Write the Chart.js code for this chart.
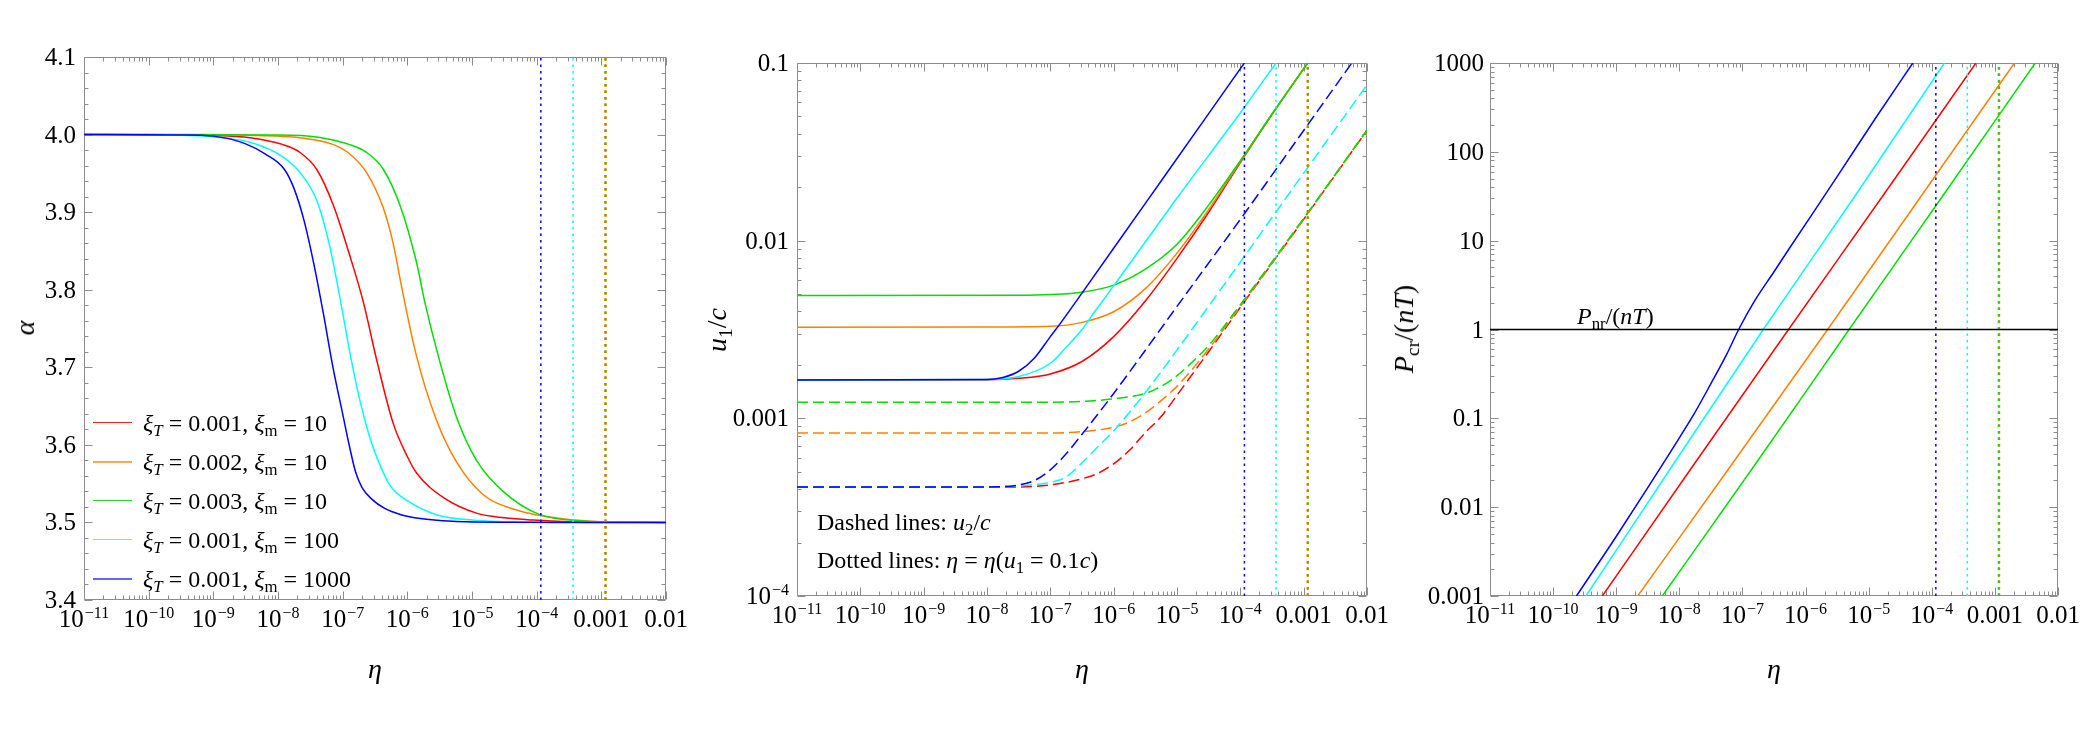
<!DOCTYPE html>
<html lang="en">
<head>
<meta charset="UTF-8">
<title>alpha, u1/c and Pcr/(nT) versus eta</title>
<script src="https://cdn.jsdelivr.net/npm/chart.js"></script>
<style>
    body {
        margin: 0;
        background: #fff;
        font-family: "Liberation Serif", "Times New Roman", serif;
    }
    #page { position: relative; width: 2084px; height: 749px; overflow: hidden; }
    canvas { position: absolute; top: 0; }
    .lbl { position: absolute; white-space: nowrap; color: #000; line-height: 1; }
    .mid { transform: translate(-50%, -50%); }
    .vert { transform: translate(-50%, -50%) rotate(-90deg); }
    .row { transform: translateY(-50%); }
    .t28 { font-size: 28px; }
    .t24 { font-size: 24px; }
    sub { font-size: 70%; vertical-align: -0.3em; line-height: 0; }
    .swatch { position: absolute; width: 39px; height: 0; }
</style>
</head>
<body>
<div id="page">
    <canvas id="alphaChart" width="700" height="749" style="left:0px"></canvas>
    <canvas id="u1Chart" width="710" height="749" style="left:690px"></canvas>
    <canvas id="pcrChart" width="700" height="749" style="left:1384px"></canvas>

    <!-- axis titles -->
    <div class="lbl vert t28" style="left:25px; top:328px"><i>α</i></div>
    <div class="lbl mid t28" style="left:375px; top:669px"><i>η</i></div>
    <div class="lbl vert t28" style="left:717px; top:330px"><i>u</i><sub>1</sub>/<i>c</i></div>
    <div class="lbl mid t28" style="left:1082px; top:669px"><i>η</i></div>
    <div class="lbl vert t28" style="left:1404px; top:329px"><i>P</i><sub>cr</sub>/(<i>nT</i>)</div>
    <div class="lbl mid t28" style="left:1774px; top:669px"><i>η</i></div>

    <!-- notes -->
    <div class="lbl row t24" style="left:817px; top:522px">Dashed lines: <i>u</i><sub>2</sub>/<i>c</i></div>
    <div class="lbl row t24" style="left:817px; top:560px">Dotted lines: <i>η</i> = <i>η</i>(<i>u</i><sub>1</sub> = 0.1<i>c</i>)</div>
    <div class="lbl row t24" style="left:1577px; top:316px"><i>P</i><sub>nr</sub>/(<i>nT</i>)</div>

    <div id="legend"></div>
</div>

<script>
    // ---------- tick values and labels ('^' starts an exponent) ----------
    const etaTicks = [1e-11, 1e-10, 1e-9, 1e-8, 1e-7, 1e-6, 1e-5, 1e-4, 1e-3, 1e-2];
    const etaTickLabels = ['10^−11', '10^−10', '10^−9', '10^−8', '10^−7', '10^−6', '10^−5', '10^−4', '0.001', '0.01'];
    const alphaTicks = [3.4, 3.5, 3.6, 3.7, 3.8, 3.9, 4.0, 4.1];
    const alphaTickLabels = ['3.4', '3.5', '3.6', '3.7', '3.8', '3.9', '4.0', '4.1'];
    const uTicks = [1e-4, 1e-3, 1e-2, 0.1];
    const uTickLabels = ['10^−4', '0.001', '0.01', '0.1'];
    const pTicks = [1e-3, 1e-2, 0.1, 1, 10, 100, 1000];
    const pTickLabels = ['0.001', '0.01', '0.1', '1', '10', '100', '1000'];

    // ---------- series (legend order) ----------
    const seriesNames = ['red', 'orange', 'green', 'cyan', 'blue'];
    const xiT = ['0.001', '0.002', '0.003', '0.001', '0.001'];
    const xiM = ['10', '10', '10', '100', '1000'];
    const lineColors = ['#ff0000', '#ff8000', '#00e000', '#00ffff', '#0000ff'];
    const swatchColors = ['#ff2020', '#ffa54f', '#22dd22', '#40ffff', '#6464ff'];
    const swatchWidths = [1.5, 2.5, 1.5, 1.5, 2.5];

    // eta where u1 = 0.1c (dotted lines), same order
    const etaLimit = [1.16e-3, 1.16e-3, 1.16e-3, 3.66e-4, 1.16e-4];

    // ---------- panel 1: alpha(eta), x given as log10(eta) ----------
    const alphaEtaRed = [-11, -9.5, -9, -8.43, -7.92, -7.66, -7.4, -7.14, -6.89, -6.68, -6.47, -6.22, -6.0, -5.86, -5.44, -4.93, -4.5, -4.05, -3.5, -2];
    const alphaRed = [4.0, 3.9995, 3.999, 3.996, 3.987, 3.977, 3.955, 3.908, 3.844, 3.784, 3.708, 3.628, 3.585, 3.564, 3.532, 3.512, 3.506, 3.503, 3.501, 3.5];
    const alphaEtaOrange = [-11, -9, -8.43, -7.66, -7.14, -6.89, -6.63, -6.37, -6.22, -6.08, -5.86, -5.55, -5.24, -4.83, -4.31, -3.54, -3.0, -2];
    const alphaOrange = [4.0, 4.0, 3.999, 3.996, 3.987, 3.975, 3.951, 3.905, 3.86, 3.80, 3.715, 3.632, 3.578, 3.536, 3.516, 3.504, 3.501, 3.5];
    const alphaEtaGreen = [-11, -8, -7.4, -6.89, -6.63, -6.37, -6.11, -5.86, -5.73, -5.5, -5.24, -4.93, -4.52, -3.95, -3.28, -2.5, -2];
    const alphaGreen = [4.0, 3.9995, 3.997, 3.987, 3.977, 3.955, 3.908, 3.836, 3.784, 3.708, 3.636, 3.58, 3.54, 3.51, 3.502, 3.5005, 3.5];
    const alphaEtaCyan = [-11, -10, -9.5, -9, -8.43, -7.92, -7.66, -7.4, -7.2, -7.03, -6.88, -6.73, -6.6, -6.5, -6.27, -6.0, -5.55, -5.0, -4.5, -3.5, -2];
    const alphaCyan = [4.0, 4.0, 3.999, 3.997, 3.99, 3.971, 3.951, 3.915, 3.856, 3.784, 3.715, 3.656, 3.615, 3.59, 3.548, 3.528, 3.51, 3.503, 3.501, 3.5, 3.5];
    const alphaEtaBlue = [-11, -9.5, -9, -8.5, -8.2, -7.9, -7.75, -7.6, -7.45, -7.3, -7.15, -7.0, -6.9, -6.8, -6.7, -6.55, -6.35, -6.1, -5.8, -5.3, -4.5, -2];
    const alphaBlue = [4.0, 3.9995, 3.998, 3.988, 3.975, 3.955, 3.93, 3.89, 3.835, 3.77, 3.70, 3.64, 3.60, 3.565, 3.545, 3.53, 3.518, 3.51, 3.505, 3.5015, 3.5003, 3.5];

    // ---------- panel 2: log10(u1/c) solid and log10(u2/c) dashed ----------
    const u1EtaRed = [-11, -8, -7.5, -7.0, -6.5, -6.0, -5.5, -5.0, -4.5, -4.0, -3.5, -2.937];
    const u1Red = [-2.784, -2.783, -2.775, -2.75, -2.68, -2.54, -2.34, -2.10, -1.84, -1.56, -1.29, -1.0];
    const u1EtaOrange = [-11, -8, -7.0, -6.5, -6.0, -5.5, -5.0, -4.5, -4.0, -3.5, -2.937];
    const u1Orange = [-2.487, -2.486, -2.482, -2.46, -2.40, -2.27, -2.07, -1.825, -1.555, -1.288, -1.0];
    const u1EtaGreen = [-11, -7.5, -7.0, -6.5, -6.0, -5.5, -5.0, -4.5, -4.0, -3.5, -2.937];
    const u1Green = [-2.309, -2.307, -2.303, -2.29, -2.25, -2.16, -2.02, -1.80, -1.55, -1.287, -1.0];
    const u1EtaCyan = [-11, -8, -7.5, -7.0, -6.75, -6.5, -6.32, -5.93, -5.0, -4.0, -3.437];
    const u1Cyan = [-2.784, -2.782, -2.765, -2.69, -2.60, -2.50, -2.41, -2.22, -1.76, -1.28, -1.0];
    const u1EtaBlue = [-11, -8, -7.75, -7.5, -7.25, -7.0, -6.85, -6.5, -5.5, -4.5, -3.937];
    const u1Blue = [-2.784, -2.782, -2.77, -2.735, -2.66, -2.54, -2.47, -2.295, -1.79, -1.285, -1.0];

    const u2EtaRed = [-11, -7.5, -7.0, -6.5, -6.25, -6.0, -5.75, -5.5, -5.25, -5.0, -4.5, -4.0, -3.0, -2.0];
    const u2Red = [-3.387, -3.386, -3.375, -3.34, -3.31, -3.256, -3.18, -3.08, -2.99, -2.87, -2.625, -2.375, -1.88, -1.379];
    const u2EtaOrange = [-11, -7.0, -6.5, -6.0, -5.75, -5.5, -5.25, -5.0, -4.75, -4.5, -4.0, -3.0, -2.0];
    const u2Orange = [-3.083, -3.082, -3.075, -3.05, -3.02, -2.97, -2.90, -2.82, -2.72, -2.61, -2.37, -1.879, -1.379];
    const u2EtaGreen = [-11, -7.0, -6.5, -6.0, -5.5, -5.25, -5.0, -4.75, -4.5, -4.0, -3.0, -2.0];
    const u2Green = [-2.91, -2.909, -2.905, -2.89, -2.86, -2.82, -2.76, -2.68, -2.59, -2.36, -1.874, -1.377];
    const u2EtaCyan = [-11, -8, -7.5, -7.0, -6.75, -6.5, -6.25, -6.0, -5.5, -5.0, -4.0, -3.0, -2.0];
    const u2Cyan = [-3.387, -3.386, -3.38, -3.36, -3.33, -3.25, -3.16, -3.07, -2.855, -2.615, -2.12, -1.62, -1.123];
    const u2EtaBlue = [-11, -8, -7.5, -7.25, -7.0, -6.75, -6.5, -6.0, -5.0, -4.0, -3.0, -2.24];
    const u2Blue = [-3.387, -3.386, -3.375, -3.35, -3.29, -3.20, -3.09, -2.86, -2.37, -1.88, -1.38, -1.0];

    // ---------- panel 3: log10(Pcr/(nT)) ----------
    const pEtaRed = [-9.22, -7.75, -6.27, -4.78, -3.3];
    const pRed = [-3, -1.5, 0, 1.5, 3];
    const pEtaOrange = [-8.66, -7.15, -5.65, -4.17, -2.69];
    const pOrange = [-3, -1.5, 0, 1.5, 3];
    const pEtaGreen = [-8.27, -6.78, -5.31, -3.83, -2.36];
    const pGreen = [-3, -1.5, 0, 1.5, 3];
    const pEtaCyan = [-9.48, -8.08, -6.67, -5.22, -3.80];
    const pCyan = [-3, -1.5, 0, 1.5, 3];
    const pEtaBlue = [-9.63, -9.0, -8.5, -8.0, -7.75, -7.5, -7.25, -7.06, -6.8, -6.5, -6.25, -5.5, -4.9, -4.3];
    const pBlue = [-3, -2.33, -1.78, -1.22, -0.93, -0.61, -0.28, 0, 0.33, 0.65, 0.92, 1.72, 2.37, 3];
    const pNonRel = 1;

    // ---------- helpers ----------
    const serif = '"Liberation Serif", "Times New Roman", serif';
    const labelSize = 25;

    function pts(logEta, ys, logY) {
        return logEta.map((e, i) => ({ x: Math.pow(10, e), y: logY ? Math.pow(10, ys[i]) : ys[i] }));
    }

    function curve(data, color, order, dash) {
        return {
            data: data, borderColor: color, borderWidth: 1.5, borderDash: dash || [],
            pointRadius: 0, cubicInterpolationMode: 'monotone', fill: false, order: order
        };
    }

    function dotted(eta, lo, hi, color, order, width) {
        return {
            data: [{ x: eta, y: lo }, { x: eta, y: hi }], borderColor: color,
            borderWidth: width || 1.5, borderDash: [2.5, 4], pointRadius: 0, fill: false, order: order
        };
    }

    function logMinor(lo, hi) {
        const out = [];
        for (let n = lo; n < hi; n++) {
            for (let k = 2; k <= 9; k++) out.push(k * Math.pow(10, n));
        }
        return out;
    }

    // gray frame with inward ticks on all four sides
    const framePlugin = {
        id: 'frame',
        beforeDatasetsDraw(chart, args, o) {
            const { ctx, chartArea: a } = chart;
            const xs = chart.scales.x, ys = chart.scales.y;
            const L = Math.round(a.left) + 0.5, R = Math.round(a.right) - 0.5;
            const T = Math.round(a.top) + 0.5, B = Math.round(a.bottom) - 0.5;
            ctx.save();
            ctx.strokeStyle = '#8c8c8c';
            ctx.lineWidth = 1;
            ctx.beginPath();
            ctx.rect(L, T, R - L, B - T);
            const mark = (vals, len, horiz) => vals.forEach(v => {
                if (horiz) {
                    const p = Math.round(xs.getPixelForValue(v)) + 0.5;
                    ctx.moveTo(p, B); ctx.lineTo(p, B - len);
                    ctx.moveTo(p, T); ctx.lineTo(p, T + len);
                } else {
                    const p = Math.round(ys.getPixelForValue(v)) + 0.5;
                    ctx.moveTo(L, p); ctx.lineTo(L + len, p);
                    ctx.moveTo(R, p); ctx.lineTo(R - len, p);
                }
            });
            mark(o.xMajor, 8, true);
            mark(o.xMinor, 4, true);
            mark(o.yMajor, 8, false);
            mark(o.yMinor, 4, false);
            ctx.stroke();

            // tick labels, with raised exponents, placed from the scales' ticks
            ctx.fillStyle = '#000';
            ctx.textBaseline = 'alphabetic';
            const draw = (label, x, y, align) => {
                const parts = label.split('^');
                ctx.font = labelSize + 'px ' + serif;
                const wBase = ctx.measureText(parts[0]).width;
                let wExp = 0;
                const expSize = Math.round(labelSize * 0.64);
                if (parts[1]) {
                    ctx.font = expSize + 'px ' + serif;
                    wExp = ctx.measureText(parts[1]).width + 1;
                }
                const w = wBase + wExp;
                const x0 = align === 'center' ? x - w / 2 : x - w;
                ctx.textAlign = 'left';
                ctx.font = labelSize + 'px ' + serif;
                ctx.fillText(parts[0], x0, y);
                if (parts[1]) {
                    ctx.font = expSize + 'px ' + serif;
                    ctx.fillText(parts[1], x0 + wBase + 1, y - labelSize * 0.36);
                }
            };
            xs.ticks.forEach((t, i) => draw(o.xLabels[i], xs.getPixelForValue(t.value), a.bottom + 27, 'center'));
            ys.ticks.forEach((t, i) => draw(o.yLabels[i], a.left - o.yPad, ys.getPixelForValue(t.value) + 8, 'right'));
            ctx.restore();
        }
    };

    function etaAxis() {
        return {
            type: 'logarithmic', min: 1e-11, max: 1e-2,
            afterBuildTicks: s => { s.ticks = etaTicks.map(v => ({ value: v })); },
            afterFit: s => { s.height = 60; },
            grid: { display: false }, border: { display: false },
            ticks: { display: false }
        };
    }

    function valueAxis(type, min, max, ticks, width) {
        return {
            type: type, min: min, max: max,
            afterBuildTicks: s => { s.ticks = ticks.map(v => ({ value: v })); },
            afterFit: s => { s.width = width; },
            grid: { display: false }, border: { display: false },
            ticks: { display: false }
        };
    }

    function chartOptions(padding, frame, yAxis) {
        return {
            responsive: false, animation: false, devicePixelRatio: 1,
            layout: { padding: padding },
            plugins: { legend: { display: false }, tooltip: { enabled: false }, frame: frame },
            scales: { x: etaAxis(), y: yAxis }
        };
    }

    const etaMinor = logMinor(-11, -2);

    // ---------- panel 1 ----------
    const alphaSets = [
        [alphaEtaRed, alphaRed], [alphaEtaOrange, alphaOrange], [alphaEtaGreen, alphaGreen],
        [alphaEtaCyan, alphaCyan], [alphaEtaBlue, alphaBlue]
    ];
    const alphaMinor = [];
    for (let i = 1; i < 35; i++) { if (i % 5) alphaMinor.push(3.4 + i * 0.02); }

    const ds1 = [];
    alphaSets.forEach((s, i) => ds1.push(curve(pts(s[0], s[1], false), lineColors[i], 20 - i)));
    ds1.push(dotted(etaLimit[0], 3.4, 4.1, lineColors[0], 9));
    ds1.push(dotted(etaLimit[1], 3.4, 4.1, lineColors[1], 8, 2.6));
    ds1.push(dotted(etaLimit[2], 3.4, 4.1, lineColors[2], 7));
    ds1.push(dotted(etaLimit[3], 3.4, 4.1, lineColors[3], 6));
    ds1.push(dotted(etaLimit[4], 3.4, 4.1, lineColors[4], 5));

    new Chart(document.getElementById('alphaChart'), {
        type: 'line',
        data: { datasets: ds1 },
        options: chartOptions({ left: 0, top: 57, right: 34, bottom: 89 },
            { xMajor: etaTicks, xMinor: etaMinor, yMajor: alphaTicks, yMinor: alphaMinor,
              xLabels: etaTickLabels, yLabels: alphaTickLabels, yPad: 8 },
            valueAxis('linear', 3.4, 4.1, alphaTicks, 84)),
        plugins: [framePlugin]
    });

    // ---------- panel 2 ----------
    const u1Sets = [[u1EtaRed, u1Red], [u1EtaOrange, u1Orange], [u1EtaGreen, u1Green], [u1EtaCyan, u1Cyan], [u1EtaBlue, u1Blue]];
    const u2Sets = [[u2EtaRed, u2Red], [u2EtaOrange, u2Orange], [u2EtaGreen, u2Green], [u2EtaCyan, u2Cyan], [u2EtaBlue, u2Blue]];

    const ds2 = [];
    u1Sets.forEach((s, i) => ds2.push(curve(pts(s[0], s[1], true), lineColors[i], 20 - i)));
    u2Sets.forEach((s, i) => ds2.push(curve(pts(s[0], s[1], true), lineColors[i], 30 - i, [11, 5])));
    ds2.push(dotted(etaLimit[0], 1e-4, 0.1, lineColors[0], 9));
    ds2.push(dotted(etaLimit[1], 1e-4, 0.1, lineColors[1], 8, 2.6));
    ds2.push(dotted(etaLimit[2], 1e-4, 0.1, lineColors[2], 7));
    ds2.push(dotted(etaLimit[3], 1e-4, 0.1, lineColors[3], 6));
    ds2.push(dotted(etaLimit[4], 1e-4, 0.1, lineColors[4], 5));

    new Chart(document.getElementById('u1Chart'), {
        type: 'line',
        data: { datasets: ds2 },
        options: chartOptions({ left: 0, top: 63, right: 33, bottom: 93 },
            { xMajor: etaTicks, xMinor: etaMinor, yMajor: uTicks, yMinor: logMinor(-4, -1),
              xLabels: etaTickLabels, yLabels: uTickLabels, yPad: 8 },
            valueAxis('logarithmic', 1e-4, 0.1, uTicks, 107)),
        plugins: [framePlugin]
    });

    // ---------- panel 3 ----------
    const pSets = [[pEtaRed, pRed], [pEtaOrange, pOrange], [pEtaGreen, pGreen], [pEtaCyan, pCyan], [pEtaBlue, pBlue]];

    const ds3 = [];
    ds3.push({ data: [{ x: 1e-11, y: pNonRel }, { x: 1e-2, y: pNonRel }], borderColor: '#000', borderWidth: 1.3, pointRadius: 0, order: 1 });
    pSets.forEach((s, i) => ds3.push(curve(pts(s[0], s[1], true), lineColors[i], 20 - i)));
    ds3.push(dotted(etaLimit[0], 1e-3, 1000, lineColors[0], 9));
    ds3.push(dotted(etaLimit[1], 1e-3, 1000, lineColors[1], 8, 2.6));
    ds3.push(dotted(etaLimit[2], 1e-3, 1000, lineColors[2], 7));
    ds3.push(dotted(etaLimit[3], 1e-3, 1000, lineColors[3], 6));
    ds3.push(dotted(etaLimit[4], 1e-3, 1000, lineColors[4], 5));

    new Chart(document.getElementById('pcrChart'), {
        type: 'line',
        data: { datasets: ds3 },
        options: chartOptions({ left: 0, top: 63, right: 26, bottom: 93 },
            { xMajor: etaTicks, xMinor: etaMinor, yMajor: pTicks, yMinor: logMinor(-3, 3),
              xLabels: etaTickLabels, yLabels: pTickLabels, yPad: 6 },
            valueAxis('logarithmic', 1e-3, 1000, pTicks, 106)),
        plugins: [framePlugin]
    });

    // ---------- legend of panel 1 ----------
    const legend = document.getElementById('legend');
    const legendRowY = [423, 462, 501, 540, 579];
    seriesNames.forEach((name, i) => {
        const sw = document.createElement('div');
        sw.className = 'swatch';
        sw.style.left = '93px';
        sw.style.top = (legendRowY[i] - swatchWidths[i] / 2) + 'px';
        sw.style.borderTop = swatchWidths[i] + 'px solid ' + swatchColors[i];
        legend.appendChild(sw);
        const tx = document.createElement('div');
        tx.className = 'lbl row t24';
        tx.style.left = '143px';
        tx.style.top = legendRowY[i] + 'px';
        tx.innerHTML = '<i>ξ</i><sub><i>T</i></sub> = ' + xiT[i] + ', <i>ξ</i><sub>m</sub> = ' + xiM[i];
        legend.appendChild(tx);
    });
</script>
</body>
</html>
